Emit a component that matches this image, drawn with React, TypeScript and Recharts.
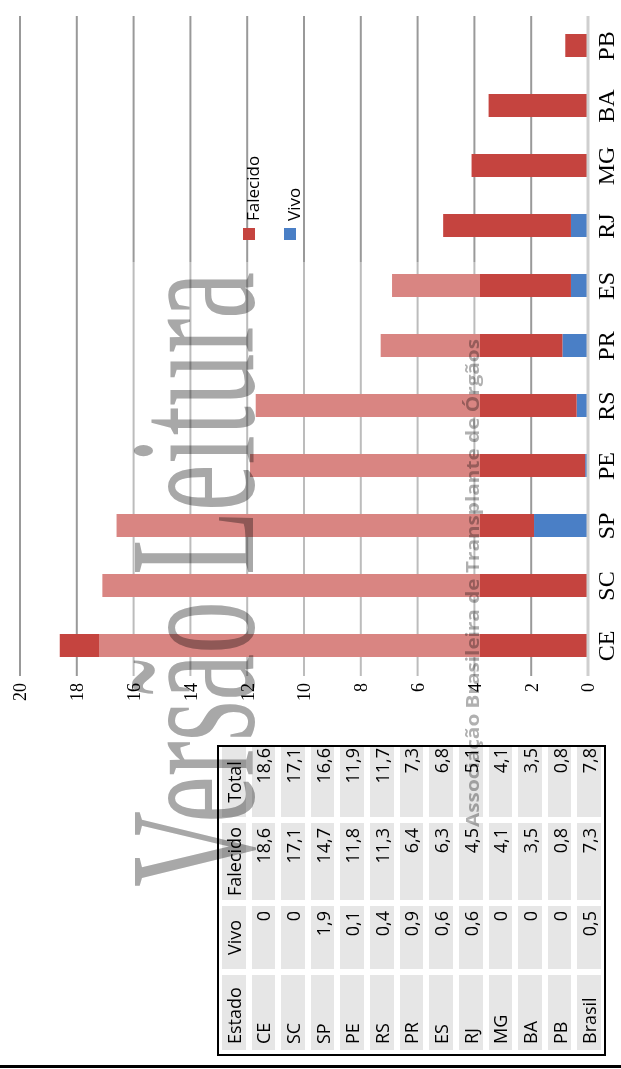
import React from 'react';
import { BarChart, Bar, XAxis, YAxis, CartesianGrid } from 'recharts';

// ---- data ----
const estados = ['CE', 'SC', 'SP', 'PE', 'RS', 'PR', 'ES', 'RJ', 'MG', 'BA', 'PB'];
const vivo = [0, 0, 1.9, 0.1, 0.4, 0.9, 0.6, 0.6, 0, 0, 0];
const falecido = [18.6, 17.1, 14.7, 11.8, 11.3, 6.4, 6.3, 4.5, 4.1, 3.5, 0.8];
const total = [18.6, 17.1, 16.6, 11.9, 11.7, 7.3, 6.8, 5.1, 4.1, 3.5, 0.8];
const brasilRow = ['Brasil', 0.5, 7.3, 7.8];
const valueTicks = [0, 2, 4, 6, 8, 10, 12, 14, 16, 18, 20];
const tableHeaders = ['Estado', 'Vivo', 'Falecido', 'Total'];
const legendNames = ['Falecido', 'Vivo'];

const RED = '#c5443f';
const BLUE = '#4a7fc6';
const colors: Record<string, string> = { Falecido: RED, Vivo: BLUE };

const chartData = estados.map((e, i) => ({ estado: e, vivo: vivo[i], falecido: falecido[i] }));

const fmt = (v: number) => (v === 0 ? '0' : v.toFixed(1).replace('.', ','));

const tableRows: (string | number)[][] = [
  ...estados.map((e, i) => [e, vivo[i], falecido[i], total[i]]),
  brasilRow,
];

const SANS = '"Open Sans", "DejaVu Sans", sans-serif';
const SERIF = '"Liberation Serif", "Times New Roman", serif';

function DataTable() {
  return (
    <div
      style={{
        position: 'absolute',
        left: 13,
        top: 217,
        width: 311,
        height: 389,
        boxSizing: 'border-box',
        border: '2px solid #000',
        background: '#fff',
        display: 'grid',
        gridTemplateColumns: '75px 63px 77px 70px',
        gridTemplateRows: 'repeat(13, 1fr)',
        columnGap: 6,
        rowGap: 6,
        padding: '3px 0 3px 4px',
        fontFamily: SANS,
        fontSize: 18,
        color: '#000',
      }}
    >
      {tableHeaders.map((h) => (
        <div
          key={h}
          style={{
            background: '#e6e6e6',
            display: 'flex',
            alignItems: 'center',
            justifyContent: h === 'Estado' ? 'flex-start' : 'center',
            paddingLeft: h === 'Estado' ? 6 : 0,
            lineHeight: 1,
            whiteSpace: 'nowrap',
          }}
        >
          {h}
        </div>
      ))}
      {tableRows.map((row, ri) =>
        row.map((cell, ci) => (
          <div
            key={ri + '-' + ci}
            style={{
              background: '#e6e6e6',
              display: 'flex',
              alignItems: 'center',
              justifyContent: ci === 0 ? 'flex-start' : 'flex-end',
              paddingLeft: ci === 0 ? 6 : 0,
              paddingRight: ci === 0 ? 0 : ci === 3 ? 1 : 5,
              lineHeight: 1,
              whiteSpace: 'nowrap',
            }}
          >
            {typeof cell === 'number' ? fmt(cell) : cell}
          </div>
        ))
      )}
    </div>
  );
}

function ChartLegend() {
  return (
    <div style={{ position: 'absolute', left: 829, top: 229, fontFamily: SANS, fontSize: 17 }}>
      {legendNames.map((n) => (
        <div key={n} style={{ position: 'relative', height: 41 }}>
          <div
            style={{ position: 'absolute', left: 0, top: 14, width: 12, height: 12, background: colors[n] }}
          />
          <div style={{ position: 'absolute', left: 19, top: 12, lineHeight: '24px', whiteSpace: 'nowrap' }}>
            {n}
          </div>
        </div>
      ))}
    </div>
  );
}

function Watermark() {
  return (
    <>
      <svg
        width={1069}
        height={621}
        style={{ position: 'absolute', left: 0, top: 0, pointerEvents: 'none' }}
      >
        <rect x={390} y={99} width={417} height={381} fill="#fff" fillOpacity={0.35} />
      </svg>
      <svg
        width={1069}
        height={621}
        style={{ position: 'absolute', left: 0, top: 0, pointerEvents: 'none', mixBlendMode: 'multiply' }}
      >
        <text
          transform="translate(182,253) scale(0.58,1)"
          x={0}
          y={0}
          fontFamily={SERIF}
          fontSize={181}
          fill="#a8a8a8"
        >
          Versão Leitura
        </text>
        <text
          x={242}
          y={479}
          fontFamily={SANS}
          fontWeight={700}
          fontSize={17}
          fill="#b0b0b0"
          textLength={488}
          lengthAdjust="spacingAndGlyphs"
        >
          Associação Brasileira de Transplante de Órgãos
        </text>
      </svg>
    </>
  );
}

export default function App() {
  return (
    <div
      style={{
        position: 'absolute',
        left: 0,
        top: 0,
        width: 621,
        height: 1069,
        overflow: 'hidden',
        background: '#fff',
      }}
    >
      <div
        style={{
          position: 'absolute',
          left: 0,
          top: 0,
          width: 1069,
          height: 621,
          transformOrigin: '0 0',
          transform: 'translate(0px, 1069px) rotate(-90deg)',
          background: '#fff',
        }}
      >
        <div style={{ position: 'absolute', left: 1, top: 0, width: 3, height: 621, background: '#000' }} />
        <DataTable />
        <div style={{ position: 'absolute', left: 330, top: 0 }}>
          <BarChart
            width={739}
            height={621}
            data={chartData}
            margin={{ top: 20, right: 16, left: 0, bottom: 0 }}
            barSize={23}
          >
            <CartesianGrid vertical={false} stroke="#999" strokeWidth={2} />
            <XAxis
              dataKey="estado"
              height={33}
              interval={0}
              axisLine={{ stroke: '#cfcfcf', strokeWidth: 3 }}
              tickLine={false}
              tickSize={0}
              tickMargin={9}
              tick={{ fontFamily: SERIF, fontSize: 24, fill: '#000' }}
            />
            <YAxis
              type="number"
              domain={[0, 20]}
              ticks={valueTicks}
              interval={0}
              width={63}
              axisLine={false}
              tickLine={false}
              tickSize={0}
              tickMargin={7}
              tick={{ fontFamily: SERIF, fontSize: 18, fill: '#000' }}
            />
            <Bar dataKey="vivo" name="Vivo" stackId="a" fill={BLUE} isAnimationActive={false} />
            <Bar dataKey="falecido" name="Falecido" stackId="a" fill={RED} isAnimationActive={false} />
          </BarChart>
        </div>
        <ChartLegend />
        <Watermark />
      </div>
    </div>
  );
}
